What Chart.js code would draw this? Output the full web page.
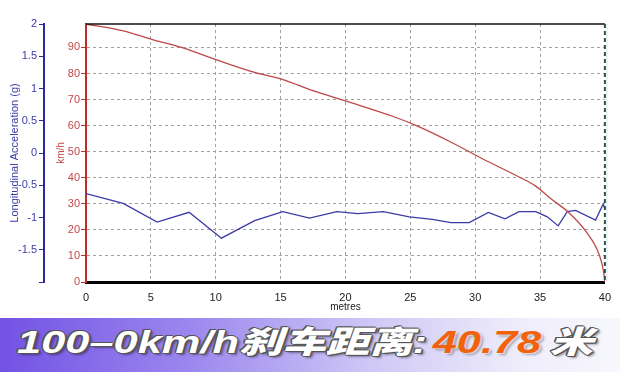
<!DOCTYPE html>
<html>
<head>
<meta charset="utf-8">
<script src="https://cdn.jsdelivr.net/npm/chart.js@4.4.1/dist/chart.umd.min.js"></script>
<style>
  html, body { margin: 0; padding: 0; background: #fff; }
  body { width: 620px; height: 372px; position: relative; overflow: hidden; }
  #plot { position: absolute; left: 0; top: 0; width: 620px; height: 318px; }
  #banner {
    position: absolute; left: 0; top: 318px; width: 620px; height: 54px; overflow: hidden;
    background: linear-gradient(to right, #7352e4 0%, #9a86ee 30%, #cfc8f6 60%, #efeefb 85%, #f7f7fd 100%);
  }
  #banner .txt {
    position: absolute; left: 17px; top: -1px; line-height: 54px; white-space: nowrap;
    transform: scaleX(1.4); transform-origin: 0 50%;
    font: italic 700 31px "Liberation Sans", "Noto Sans CJK SC", sans-serif;
    color: #fff;
    text-shadow: 1px 0 0 #555, -1px 0 0 #555, 0 1px 0 #555, 0 -1px 0 #555,
                 1px 1px 0 #555, -1px -1px 0 #555, 2px 2px 2px rgba(0,0,0,.4);
  }
  #banner .cjk { font-family: "Noto Sans CJK SC", sans-serif; font-weight: 900; }
  #banner .num {
    color: #f2620c; margin-left: 4px; margin-right: 6px;
    text-shadow: 1px 1px 0 rgba(255,255,255,.5), 2px 2px 2px rgba(0,0,0,.3);
  }
</style>
</head>
<body>
<div id="plot"><canvas id="brakeChart"></canvas></div>
<div id="banner"><div class="txt">100–0km/h<span class="cjk">刹车距离</span>:<span class="num">40.78</span><span class="cjk">米</span></div></div>

<script>
/* ----------------------------------------------------------
   DATOS (distancia en metros)
---------------------------------------------------------- */
const DIST_SPEED = [0, 2.87, 5.13, 7.36, 10.18, 13.13, 15.18, 17.49, 20.25, 23.64, 25.56,
                    28.0, 30.56, 33.5, 34.67, 35.82, 37.23, 38.52, 39.6, 39.9, 40];
const SPEED_KMH  = [99, 96.4, 93.0, 90, 85, 80.2, 77.7, 73.4, 69.1, 63.6, 59.8,
                    54.0, 47.3, 40, 36.8, 32, 26.6, 19.5, 10, 4, 0];

const DIST_ACCEL = [0, 2.87, 5.48, 7.95, 10.44, 13.0, 15.18, 17.23, 19.33, 20.95, 22.92, 24.92, 26.7,
                    28.13, 29.54, 31.02, 32.3, 33.38, 34.67, 35.56, 36.4, 37.1, 37.74, 39.28, 39.87, 40];
const ACCEL_G    = [-0.63, -0.78, -1.07, -0.92, -1.32, -1.05, -0.91, -1.01, -0.91, -0.94, -0.91, -0.99, -1.03,
                    -1.08, -1.08, -0.92, -1.02, -0.91, -0.91, -0.99, -1.13, -0.91, -0.89, -1.04, -0.79, -0.87];

const X_MAX     = 40;
const SPEED_MAX = 99;

/* ----------------------------------------------------------
   ESTILOS
---------------------------------------------------------- */
const BLUE      = '#2a2a9c';
const BLUE_TXT  = '#3b3ba8';
const RED       = '#c42a2a';
const RED_TXT   = '#c44848';
const GRID      = '#a0a0a0';
const FONT      = '"Liberation Sans Narrow", "Liberation Sans", Arial, sans-serif';

const toXY = (xs, ys) => xs.map((x, i) => ({ x, y: ys[i] }));

/* marco: línea superior negra y borde derecho punteado */
const framePlugin = {
  id: 'frame',
  afterDatasetsDraw(chart) {
    const { ctx, chartArea: { left, right, top, bottom } } = chart;
    ctx.save();
    ctx.strokeStyle = '#111';
    ctx.lineWidth = 1.5;
    ctx.beginPath();
    ctx.moveTo(left, top);
    ctx.lineTo(right, top);
    ctx.stroke();

    ctx.strokeStyle = 'rgba(160,220,220,.6)';
    ctx.lineWidth = 1;
    ctx.beginPath();
    ctx.moveTo(right + 2, top);
    ctx.lineTo(right + 2, bottom);
    ctx.stroke();

    ctx.strokeStyle = '#3f4a44';
    ctx.lineWidth = 2;
    ctx.setLineDash([4, 3]);
    ctx.beginPath();
    ctx.moveTo(right, top);
    ctx.lineTo(right, bottom);
    ctx.stroke();
    ctx.restore();
  },
};

new Chart(document.getElementById('brakeChart').getContext('2d'), {
  type: 'line',
  data: {
    datasets: [
      {
        label: 'km/h',
        data: toXY(DIST_SPEED, SPEED_KMH),
        yAxisID: 'yS',
        borderColor: '#bf4747',
        borderWidth: 1.3,
        pointRadius: 0,
        cubicInterpolationMode: 'monotone',
      },
      {
        label: 'Longitudinal Acceleration (g)',
        data: toXY(DIST_ACCEL, ACCEL_G),
        yAxisID: 'yA',
        borderColor: '#3b3aa6',
        borderWidth: 1.3,
        pointRadius: 0,
        tension: 0,
      },
    ],
  },
  options: {
    responsive: true,
    maintainAspectRatio: false,
    animation: false,
    layout: { padding: { top: 24, right: 14, left: 0, bottom: 0 } },
    plugins: { legend: { display: false }, tooltip: { enabled: false } },
    scales: {
      x: {
        type: 'linear',
        min: 0,
        max: X_MAX,
        afterFit: s => { s.height = 36; },
        border: { color: '#000', width: 3, dash: [3, 3] },
        grid: {
          color: c => (c.tick && (c.tick.value === 0 || c.tick.value === X_MAX)) ? 'rgba(0,0,0,0)' : GRID,
          lineWidth: 1,
          drawTicks: false,
        },
        ticks: { stepSize: 5, padding: 9, color: '#222', font: { family: FONT, size: 11 } },
        title: {
          display: true, text: 'metres', color: '#222',
          font: { family: FONT, size: 10 }, padding: { top: 0, bottom: 5 },
        },
      },
      yS: {
        type: 'linear',
        position: 'left',
        weight: 0,
        min: 0,
        max: SPEED_MAX,
        afterFit: s => { s.width = 42; },
        border: { color: RED, width: 2, dash: [3, 3] },
        grid: {
          color: c => (c.tick && (c.tick.value === 0 || c.tick.value === SPEED_MAX)) ? 'rgba(0,0,0,0)' : GRID,
          tickColor: c => (c.tick && c.tick.value === SPEED_MAX) ? 'rgba(0,0,0,0)' : RED,
          lineWidth: 1,
          tickLength: 5,
        },
        ticks: {
          stepSize: 10, padding: 1, color: RED_TXT, font: { family: FONT, size: 11 },
          callback: v => (v % 10 === 0 ? v : ''),
        },
        title: {
          display: true, text: 'km/h', color: RED_TXT,
          font: { family: FONT, size: 10 }, padding: { top: 11, bottom: 0 },
        },
      },
      yA: {
        type: 'linear',
        position: 'left',
        weight: 1,
        min: -2,
        max: 2,
        afterFit: s => { s.width = 44; },
        border: { color: BLUE, width: 2 },
        grid: { drawOnChartArea: false, tickColor: BLUE, tickLength: 5 },
        ticks: {
          stepSize: 0.5, padding: 2, color: BLUE_TXT, font: { family: FONT, size: 11 },
          callback: v => (v === -2 ? '' : v),
        },
        title: {
          display: true, text: 'Longitudinal Acceleration (g)', color: BLUE_TXT,
          font: { family: FONT, size: 11 }, padding: { top: 8, bottom: 0 },
        },
      },
    },
  },
  plugins: [framePlugin],
});
</script>
</body>
</html>
